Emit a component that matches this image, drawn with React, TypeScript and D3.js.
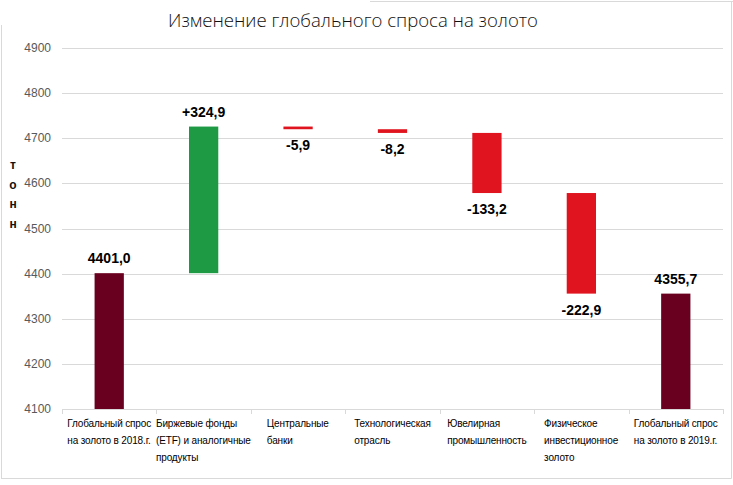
import React, { useEffect, useRef } from "react";
import * as d3 from "d3";

const categories = [
  ["Глобальный спрос", "на золото в 2018.г."],
  ["Биржевые фонды", "(ETF) и аналогичные", "продукты"],
  ["Центральные", "банки"],
  ["Технологическая", "отрасль"],
  ["Ювелирная", "промышленность"],
  ["Физическое", "инвестиционное", "золото"],
  ["Глобальный спрос", "на золото в 2019.г."],
];
const values = [4401.0, 324.9, -5.9, -8.2, -133.2, -222.9, 4355.7];
const isTotal = [true, false, false, false, false, false, true];
const valueLabels = ["4401,0", "+324,9", "-5,9", "-8,2", "-133,2", "-222,9", "4355,7"];
const yTicks = [4100, 4200, 4300, 4400, 4500, 4600, 4700, 4800, 4900];
const title = "Изменение глобального спроса на золото";
const yLabel = ["т", "о", "н", "н"];

const W = 733, H = 485;
const M = { left: 62, right: 10, top: 48, bottom: 76 };

export default function App() {
  const ref = useRef<SVGSVGElement>(null);
  useEffect(() => {
    const svg = d3.select(ref.current);
    svg.selectAll("*").remove();
    const x = d3.scaleBand<number>().domain(d3.range(categories.length)).range([M.left, W - M.right]).paddingInner(0.69).paddingOuter(0.345);
    const y = d3.scaleLinear().domain([4100, 4900]).range([H - M.bottom, M.top]);

    // border
    const bc = "#d9d9d9";
    svg.append("line").attr("x1", 1.5).attr("x2", 1.5).attr("y1", 25).attr("y2", 478.5).attr("stroke", bc);
    svg.append("line").attr("x1", 1).attr("x2", 731.5).attr("y1", 478.5).attr("y2", 478.5).attr("stroke", bc);
    svg.append("line").attr("x1", 731.5).attr("x2", 731.5).attr("y1", 1).attr("y2", 478.5).attr("stroke", bc);
    svg.append("line").attr("x1", 370).attr("x2", 733).attr("y1", 1.5).attr("y2", 1.5).attr("stroke", bc);

    svg.append("text").attr("x", 353).attr("y", 27).attr("text-anchor", "middle")
      .attr("font-family", "Open Sans").attr("font-size", 19).attr("font-weight", 300).attr("fill", "#111")
      .attr("textLength", 370).attr("lengthAdjust", "spacingAndGlyphs").text(title);

    // grid
    const g = svg.append("g");
    yTicks.forEach((t) => {
      g.append("line").attr("x1", M.left).attr("x2", W - M.right).attr("y1", Math.round(y(t)) + 0.5).attr("y2", Math.round(y(t)) + 0.5).attr("stroke", "#d9d9d9");
      g.append("text").attr("x", 51).attr("y", y(t) + 4).attr("text-anchor", "end")
        .attr("font-family", "Liberation Sans").attr("font-size", 12).attr("fill", "#595959").text(t);
    });
    // category ticks
    d3.range(categories.length + 1).forEach((i) => {
      const xx = Math.round(M.left + i * x.step()) + 0.5;
      g.append("line").attr("x1", xx).attr("x2", xx).attr("y1", y(4100)).attr("y2", y(4100) + 5).attr("stroke", "#d9d9d9");
    });

    yLabel.forEach((c, i) => {
      svg.append("text").attr("x", 13).attr("y", 169 + i * 19.5).attr("text-anchor", "middle")
        .attr("font-family", "Liberation Sans").attr("font-size", 12).attr("font-weight", "bold").attr("fill", "#111").text(c);
    });

    // bars
    let cum = 0;
    values.forEach((v, i) => {
      let y0: number, y1: number;
      if (isTotal[i]) { y0 = 4100; y1 = v; cum = v; }
      else { y0 = cum; y1 = cum + v; cum = y1; }
      const top = Math.max(y0, y1), bot = Math.min(y0, y1);
      const color = isTotal[i] ? "#6a001f" : v >= 0 ? "#1e9a44" : "#e0141e";
      svg.append("rect").attr("x", x(i)!).attr("width", x.bandwidth()).attr("y", y(top)).attr("height", Math.max(y(bot) - y(top), 1)).attr("fill", color);
      const cx = x(i)! + x.bandwidth() / 2;
      const ly = v >= 0 ? y(top) - 10 : y(bot) + 21;
      svg.append("text").attr("x", cx).attr("y", ly).attr("text-anchor", "middle")
        .attr("font-family", "Liberation Sans").attr("font-size", 14).attr("font-weight", "bold").attr("fill", "#000").text(valueLabels[i]);
    });

    // category labels
    categories.forEach((lines, i) => {
      const cx = x(i)! + x.bandwidth() / 2;
      const tg = svg.append("g");
      lines.forEach((l, j) => {
        tg.append("text").attr("x", 0).attr("y", 427 + j * 17)
          .attr("font-family", "Liberation Sans").attr("font-size", 10).attr("letter-spacing", -0.15).attr("fill", "#000").text(l);
      });
      const bb = (tg.node() as SVGGElement).getBBox();
      tg.attr("transform", `translate(${cx - bb.width / 2},0)`);
    });
  }, []);
  return <svg ref={ref} width={W} height={H} style={{ display: "block", position: "absolute", left: 0, top: 0, background: "#fff" }} />;
}
